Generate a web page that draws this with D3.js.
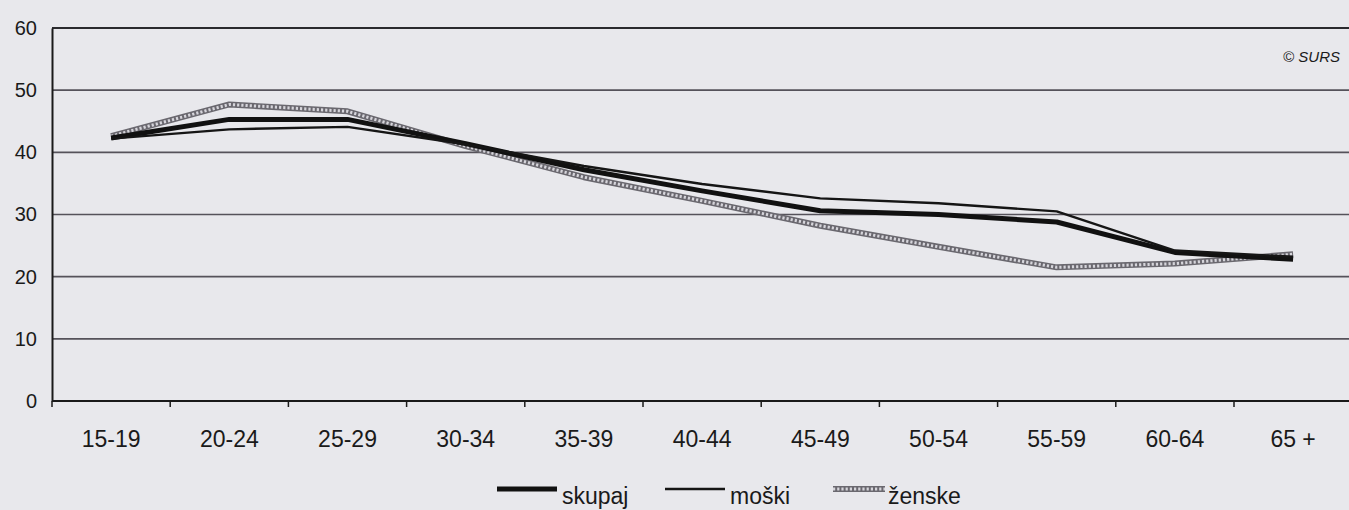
<!DOCTYPE html>
<html>
<head>
<meta charset="utf-8">
<script src="https://cdn.jsdelivr.net/npm/d3@7"></script>
<style>
  body { margin: 0; background: #e8e8ec; }
  svg { display: block; }
  .axis text { font-family: "Liberation Sans Narrow", "Arial Narrow", sans-serif; fill: #1a1a1a; }
</style>
</head>
<body>
<div id="chart"></div>
<script>
// starostne skupine
var ageGroups = ["15-19", "20-24", "25-29", "30-34", "35-39", "40-44", "45-49", "50-54", "55-59", "60-64", "65 +"];
var skupaj = [42.3, 45.3, 45.3, 41.4, 37.2, 33.8, 30.6, 30.0, 28.8, 23.9, 22.8];
var moski  = [42.2, 43.7, 44.1, 41.3, 37.8, 34.9, 32.6, 31.8, 30.5, 24.2, 23.2];
var zenske = [42.6, 47.7, 46.6, 41.0, 36.0, 32.2, 28.2, 24.8, 21.5, 22.1, 23.6];
var yTicks = [0, 10, 20, 30, 40, 50, 60];
var seriesNames = ["skupaj", "moški", "ženske"];

var width = 1349, height = 510;
var margin = {top: 28, left: 52, bottom: 109};

var svg = d3.select("#chart").append("svg")
    .attr("width", width)
    .attr("height", height);

svg.append("rect")
    .attr("width", width)
    .attr("height", height)
    .attr("fill", "#e8e8ec");

var x = d3.scaleBand()
    .domain(ageGroups)
    .range([margin.left, margin.left + 11 * 118.2]);

var y = d3.scaleLinear()
    .domain([0, 60])
    .range([height - margin.bottom, margin.top]);

// mreža
svg.append("g")
    .selectAll("line")
    .data(yTicks.filter(function(d) { return d > 0; }))
    .enter()
    .append("line")
    .attr("x1", margin.left)
    .attr("x2", width)
    .attr("y1", function(d) { return y(d); })
    .attr("y2", function(d) { return y(d); })
    .attr("stroke", function(d) { return d == 60 ? "#2a2a2e" : "#55525a"; })
    .attr("stroke-width", function(d) { return d == 60 ? 2 : 1.6; });

var yAxis = d3.axisLeft(y)
    .tickValues(yTicks)
    .tickSize(0)
    .tickPadding(15);

svg.append("g")
    .attr("class", "axis y-axis")
    .attr("transform", "translate(" + margin.left + ",0)")
    .call(yAxis)
    .call(function(g) {
        g.select(".domain").attr("stroke", "#1a1a1a").attr("stroke-width", 2);
        g.selectAll("text").attr("font-size", 20);
    });

var xAxis = d3.axisBottom(x)
    .tickSize(0)
    .tickPadding(30);

var xg = svg.append("g")
    .attr("class", "axis x-axis")
    .attr("transform", "translate(0," + y(0) + ")")
    .call(xAxis);

xg.select(".domain").remove();
xg.selectAll("text").attr("font-size", 23);

xg.append("line")
    .attr("x1", margin.left)
    .attr("x2", width)
    .attr("stroke", "#1a1a1a")
    .attr("stroke-width", 2.2);

// zareze na mejah skupin
xg.selectAll(".bound")
    .data(ageGroups)
    .enter()
    .append("line")
    .attr("class", "bound")
    .attr("x1", function(d) { return x(d); })
    .attr("x2", function(d) { return x(d); })
    .attr("y1", 0)
    .attr("y2", 6)
    .attr("stroke", "#1a1a1a")
    .attr("stroke-width", 1.5);

var line = d3.line()
    .x(function(d, i) { return x(ageGroups[i]) + x.bandwidth() / 2; })
    .y(function(d) { return y(d); });

function drawZenske(g, path) {
    g.append("path").attr("d", path)
        .attr("fill", "none").attr("stroke", "#6a686f").attr("stroke-width", 6)
        .attr("stroke-linejoin", "round");
    g.append("path").attr("d", path)
        .attr("fill", "none").attr("stroke", "#d6d5db").attr("stroke-width", 3)
        .attr("stroke-dasharray", "2.2,2");
}

var plot = svg.append("g");
drawZenske(plot, line(zenske));

plot.append("path")
    .attr("d", line(skupaj))
    .attr("fill", "none")
    .attr("stroke", "#111")
    .attr("stroke-width", 5)
    .attr("stroke-linejoin", "round");

plot.append("path")
    .attr("d", line(moski))
    .attr("fill", "none")
    .attr("stroke", "#151515")
    .attr("stroke-width", 2.4)
    .attr("stroke-linejoin", "round");

// legenda
var legend = svg.append("g");
var legendX = [497, 665, 833];

legend.append("line")
    .attr("x1", legendX[0]).attr("x2", legendX[0] + 60)
    .attr("y1", 489).attr("y2", 489)
    .attr("stroke", "#111").attr("stroke-width", 5);

legend.append("line")
    .attr("x1", legendX[1]).attr("x2", legendX[1] + 60)
    .attr("y1", 489).attr("y2", 489)
    .attr("stroke", "#151515").attr("stroke-width", 2.4);

drawZenske(legend, "M" + legendX[2] + ",489H" + (legendX[2] + 52));

legend.selectAll("text")
    .data(seriesNames)
    .enter()
    .append("text")
    .attr("x", function(d, i) { return legendX[i] + (i == 2 ? 55 : 65); })
    .attr("y", 504)
    .attr("font-family", "Liberation Sans Narrow, Arial Narrow, sans-serif")
    .attr("font-size", 23)
    .attr("fill", "#1a1a1a")
    .text(function(d) { return d; });

svg.append("text")
    .attr("x", 1340)
    .attr("y", 62)
    .attr("text-anchor", "end")
    .attr("font-family", "Liberation Sans, Arial, sans-serif")
    .attr("font-style", "italic")
    .attr("font-size", 15)
    .attr("fill", "#1a1a1a")
    .text("© SURS");
</script>
</body>
</html>
